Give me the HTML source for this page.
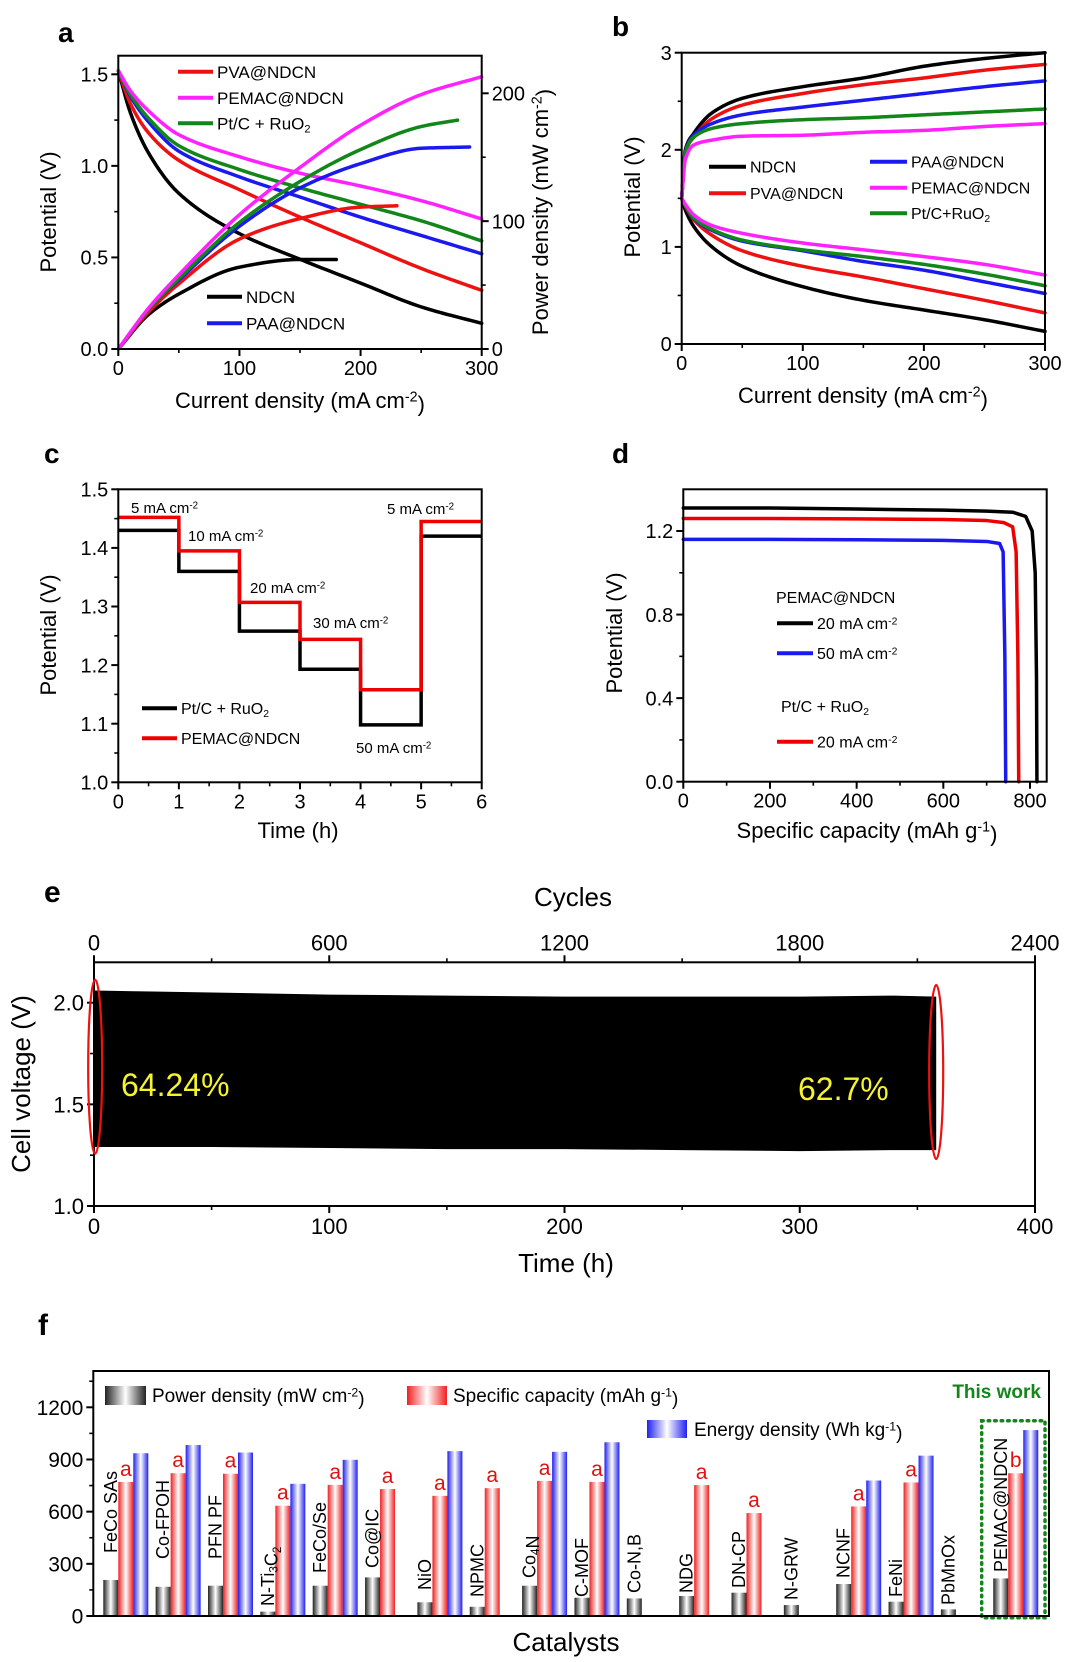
<!DOCTYPE html>
<html><head><meta charset="utf-8"><style>
html,body{margin:0;padding:0;background:#fff;}
svg{display:block;font-family:"Liberation Sans",Arial,sans-serif;}
</style></head><body>
<svg id="fig" xmlns="http://www.w3.org/2000/svg" width="1080" height="1662" viewBox="0 0 1080 1662">
<defs>
<linearGradient id="gBlack" x1="0" x2="1" y1="0" y2="0"><stop offset="0" stop-color="#222"/><stop offset="0.5" stop-color="#fff"/><stop offset="1" stop-color="#222"/></linearGradient>
<linearGradient id="gRed" x1="0" x2="1" y1="0" y2="0"><stop offset="0" stop-color="#f02020"/><stop offset="0.5" stop-color="#fff"/><stop offset="1" stop-color="#f02020"/></linearGradient>
<linearGradient id="gBlue" x1="0" x2="1" y1="0" y2="0"><stop offset="0" stop-color="#2020f0"/><stop offset="0.5" stop-color="#fff"/><stop offset="1" stop-color="#2020f0"/></linearGradient>
</defs>
</svg>
<script>
// ---------- Panel a data ----------
const aPolX = [0,10,25,50,100,150,200,250,300];
const aPolNDCN = [1.52,1.29,1.07,0.85,0.63,0.49,0.36,0.23,0.14];
const aPolPVA = [1.52,1.34,1.18,1.03,0.87,0.72,0.58,0.44,0.32];
const aPolPAA = [1.52,1.38,1.24,1.08,0.94,0.83,0.72,0.62,0.52];
const aPolPtC = [1.52,1.39,1.26,1.11,0.98,0.88,0.79,0.70,0.59];
const aPolPEMAC = [1.52,1.41,1.30,1.17,1.05,0.96,0.89,0.81,0.71];
const aPowNDCNx = [0,25,50,100,150,180];
const aPowNDCN = [0,27,43,64,70,70];
const aPowPVAx = [0,25,50,100,150,200,230];
const aPowPVA = [0,29,51,86,102,111,112];
const aPowPAAx = [0,25,50,100,150,200,250,290];
const aPowPAA = [0,31,54,96,126,145,157,158];
const aPowPtCx = [0,25,50,100,150,200,250,280];
const aPowPtC = [0,31,55,99,131,156,174,179];
const aPowPEMACx = [0,25,50,100,150,200,250,300];
const aPowPEMAC = [0,32,58,105,142,175,199,213];
// ---------- Panel b data ----------
const bX = [0,3,10,25,50,100,150,200,250,300];
const bChNDCN = [1.5,2.0,2.17,2.38,2.53,2.65,2.74,2.86,2.94,3.0];
const bChPVA = [1.5,1.97,2.13,2.32,2.46,2.58,2.67,2.74,2.82,2.88];
const bChPAA = [1.5,1.98,2.15,2.27,2.36,2.44,2.51,2.58,2.65,2.71];
const bChPtC = [1.5,1.97,2.13,2.22,2.27,2.31,2.33,2.36,2.39,2.42];
const bChPEMAC = [1.5,1.9,2.05,2.10,2.14,2.15,2.18,2.2,2.24,2.27];
const bDisNDCN = [1.5,1.38,1.21,1.0,0.8,0.59,0.45,0.35,0.25,0.13];
const bDisPVA = [1.5,1.42,1.28,1.12,0.96,0.8,0.69,0.57,0.45,0.32];
const bDisPAA = [1.5,1.43,1.29,1.17,1.06,0.96,0.85,0.76,0.64,0.52];
const bDisPtC = [1.5,1.43,1.30,1.18,1.07,0.97,0.90,0.82,0.72,0.60];
const bDisPEMAC = [1.5,1.44,1.33,1.22,1.14,1.04,0.97,0.90,0.82,0.71];
// ---------- Panel c data ----------
const cTimes = [0,1,2,3,4,5,6];
const cPtC = [1.43,1.36,1.258,1.193,1.098,1.42];
const cPEMAC = [1.452,1.395,1.307,1.244,1.158,1.445];
// ---------- Panel d data ----------
const dCap20 = [0,200,400,600,700,760,790,805,812,815,816];
const dV20 = [1.31,1.31,1.305,1.30,1.295,1.29,1.27,1.2,1.0,0.5,0];
const dCap50 = [0,200,400,600,700,730,738,742,744];
const dV50 = [1.16,1.16,1.158,1.155,1.15,1.14,1.1,0.6,0];
const dCapPt = [0,200,400,600,700,740,760,768,772,774];
const dVPt = [1.26,1.26,1.258,1.255,1.25,1.24,1.22,1.1,0.6,0];
// ---------- Panel e data ----------
const eTime = [0,25,50,100,150,200,250,300,340,358];
const eUpper = [2.06,2.055,2.05,2.04,2.035,2.03,2.03,2.03,2.035,2.03];
const eLower = [1.29,1.29,1.29,1.285,1.28,1.28,1.275,1.27,1.275,1.275];
// ---------- Panel f data ----------
const fCats = ["FeCo SAs","Co-FPOH","PFN PF","N-Ti₃C₂","FeCo/Se","Co@IC","NiO","NPMC","Co₄N","C-MOF","Co-N,B","NDG","DN-CP","N-GRW","NCNF","FeNi","PbMnOx","PEMAC@NDCN"];
const fPower = [207,168,174,25,174,222,79,53,174,105,101,115,134,63,184,82,38,216];
const fCapacity = [771,821,818,634,754,730,691,735,777,771,0,753,592,0,630,768,0,821];
const fEnergy = [936,983,940,760,898,0,948,0,944,999,0,0,0,0,779,922,0,1069];
const fNotes = ["a","a","a","a","a","a","a","a","a","a","","a","a","","a","a","","b"];
const fLabelBottom = [1553,1559,1559,1606,1573,1568,1590,1597,1578,1597,1593,1593,1588,1600,1578,1597,1605,1572];

const NS='http://www.w3.org/2000/svg';
const svg=document.getElementById('fig');
function el(tag, attrs, name, parent){
  const e=document.createElementNS(NS,tag);
  for(const k in attrs) e.setAttribute(k,attrs[k]);
  
  
  (parent||svg).appendChild(e);
  return e;
}
function txt(x,y,html,size,name,opts){
  opts=opts||{};
  const a={x:x,y:y,'font-size':size,fill:opts.fill||'#000','text-anchor':opts.anchor||'start'};
  if(opts.weight) a['font-weight']=opts.weight;
  if(opts.rot!==undefined) a.transform='rotate('+opts.rot+' '+x+' '+y+')';
  const t=el('text',a,name);
  t.innerHTML=html;
  return t;
}
const SUPEND=(s)=>'<tspan dy="-0.45em" font-size="0.65em">'+s+'</tspan>';
const sub=(s)=>'<tspan dy="0.3em" font-size="0.65em">'+s+'</tspan><tspan dy="-0.3em"></tspan>';
function S(d0,d1,r0,r1){return v=>r0+(v-d0)/(d1-d0)*(r1-r0);}
function monotone(xs,ys,n){
  const k=xs.length, d=[], m=new Array(k);
  for(let i=0;i<k-1;i++) d.push((ys[i+1]-ys[i])/(xs[i+1]-xs[i]));
  m[0]=d[0]; m[k-1]=d[k-2];
  for(let i=1;i<k-1;i++){
    if(d[i-1]*d[i]<=0) m[i]=0;
    else { const h0=xs[i]-xs[i-1],h1=xs[i+1]-xs[i]; const w1=2*h1+h0,w2=h1+2*h0; m[i]=(w1+w2)/(w1/d[i-1]+w2/d[i]); }
  }
  const out=[];
  for(let i=0;i<k-1;i++){
    const h=xs[i+1]-xs[i];
    for(let j=0;j<n;j++){
      const t=j/n, t2=t*t, t3=t2*t;
      const y=(2*t3-3*t2+1)*ys[i]+(t3-2*t2+t)*h*m[i]+(-2*t3+3*t2)*ys[i+1]+(t3-t2)*h*m[i+1];
      out.push([xs[i]+t*h,y]);
    }
  }
  out.push([xs[k-1],ys[k-1]]);
  return out;
}
function curve(xs,vs,sx,sy,color,w,name,smooth){
  let pts;
  if(smooth===false) pts=xs.map((x,i)=>[x,vs[i]]);
  else pts=monotone(xs,vs,16);
  const d='M'+pts.map(p=>sx(p[0]).toFixed(2)+','+sy(p[1]).toFixed(2)).join(' L');
  return el('path',{d:d,fill:'none',stroke:color,'stroke-width':w,'stroke-linejoin':'round','stroke-linecap':'round'},name);
}
function frame(x0,y0,x1,y1,name){
  el('rect',{x:x0,y:y0,width:x1-x0,height:y1-y0,fill:'none',stroke:'#000','stroke-width':2},name);
}
function axisTicks(side,scale,ticks,labels,minor,pos,size,prefix){
  const L=7,m=4;
  ticks.forEach((t,i)=>{
    const p=scale(t);
    let a;
    if(side==='left') a={x1:pos,x2:pos-L,y1:p,y2:p};
    if(side==='right') a={x1:pos,x2:pos+L,y1:p,y2:p};
    if(side==='bottom') a={x1:p,x2:p,y1:pos,y2:pos+L};
    if(side==='top') a={x1:p,x2:p,y1:pos,y2:pos-L};
    a.stroke='#000';a['stroke-width']=2;
    el('line',a,prefix+'-tick');
    if(labels){
      const lab=labels[i];
      if(side==='left') txt(pos-10,p+size*0.36,lab,size,prefix+'-tick-label',{anchor:'end'});
      if(side==='right') txt(pos+10,p+size*0.36,lab,size,prefix+'-tick-label');
      if(side==='bottom') txt(p,pos+size+6,lab,size,prefix+'-tick-label',{anchor:'middle'});
      if(side==='top') txt(p,pos-12,lab,size,prefix+'-tick-label',{anchor:'middle'});
    }
  });
  (minor||[]).forEach(t=>{
    const p=scale(t);let a;
    if(side==='left') a={x1:pos,x2:pos-m,y1:p,y2:p};
    if(side==='right') a={x1:pos,x2:pos+m,y1:p,y2:p};
    if(side==='bottom') a={x1:p,x2:p,y1:pos,y2:pos+m};
    if(side==='top') a={x1:p,x2:p,y1:pos,y2:pos-m};
    a.stroke='#000';a['stroke-width']=1.6;
    el('line',a,prefix+'-minor-tick');
  });
}
function legendLine(x1,x2,y,color,w,label,size,name){
  el('line',{x1:x1,x2:x2,y1:y,y2:y,stroke:color,'stroke-width':w},name+'-swatch');
  txt(x2+4,y+size*0.36,label,size,name+'-label');
}
const C={blk:'#000',red:'#ee1111',blue:'#1a1aee',mag:'#ff22ff',grn:'#13861a'};

// ================= Panel a =================
(function(){
  const xa=S(0,300,118.3,481.7), ya=S(0,1.5,349,74.3), pa=S(0,200,349,93.3);
  txt(58,42,'a',28,'panel-label-a',{weight:'bold'});
  const pairs=[[aPolNDCN,C.blk,'ndcn'],[aPolPVA,C.red,'pva'],[aPolPAA,C.blue,'paa'],[aPolPtC,C.grn,'ptc'],[aPolPEMAC,C.mag,'pemac']];
  pairs.forEach(p=>curve(aPolX,p[0],xa,ya,p[1],3.5,'polarization-'+p[2]));
  curve(aPowNDCNx,aPowNDCN,xa,pa,C.blk,3.5,'power-ndcn');
  curve(aPowPVAx,aPowPVA,xa,pa,C.red,3.5,'power-pva');
  curve(aPowPAAx,aPowPAA,xa,pa,C.blue,3.5,'power-paa');
  curve(aPowPtCx,aPowPtC,xa,pa,C.grn,3.5,'power-ptc');
  curve(aPowPEMACx,aPowPEMAC,xa,pa,C.mag,3.5,'power-pemac');
  frame(118.3,55.7,481.7,349,'plot-frame-a');
  axisTicks('left',ya,[0,0.5,1,1.5],['0.0','0.5','1.0','1.5'],[0.25,0.75,1.25],118.3,20,'a-y');
  axisTicks('right',pa,[0,100,200],['0','100','200'],[50,150],481.7,20,'a-y2');
  axisTicks('bottom',xa,[0,100,200,300],['0','100','200','300'],[50,150,250],349,20,'a-x');
  txt(56,212,'Potential (V)',22,'a-y-axis-title',{anchor:'middle',rot:-90});
  txt(300,408,'Current density (mA cm'+SUPEND('-2')+'<tspan dy="0.45em">)</tspan>',22,'a-x-axis-title',{anchor:'middle'});
  txt(548,212,'Power density (mW cm'+SUPEND('-2')+'<tspan dy="0.45em">)</tspan>',22,'a-y2-axis-title',{anchor:'middle',rot:-90});
  legendLine(178,213,71.7,C.red,4,'PVA@NDCN',17,'a-legend-pva');
  legendLine(178,213,97.7,C.mag,4,'PEMAC@NDCN',17,'a-legend-pemac');
  legendLine(178,213,123.3,C.grn,4,'Pt/C + RuO'+sub('2'),17,'a-legend-ptc');
  legendLine(207,242,296.7,C.blk,4,'NDCN',17,'a-legend-ndcn');
  legendLine(207,242,323.3,C.blue,4,'PAA@NDCN',17,'a-legend-paa');
})();

// ================= Panel b =================
(function(){
  const xb=S(0,300,681.7,1045), yb=S(0,3,344,52.7);
  txt(612,36,'b',28,'panel-label-b',{weight:'bold'});
  const ch=[[bChNDCN,C.blk,'ndcn'],[bChPVA,C.red,'pva'],[bChPAA,C.blue,'paa'],[bChPtC,C.grn,'ptc'],[bChPEMAC,C.mag,'pemac']];
  const dis=[[bDisNDCN,C.blk,'ndcn'],[bDisPVA,C.red,'pva'],[bDisPAA,C.blue,'paa'],[bDisPtC,C.grn,'ptc'],[bDisPEMAC,C.mag,'pemac']];
  ch.forEach(p=>curve(bX,p[0],xb,yb,p[1],3.5,'charge-'+p[2]));
  dis.forEach(p=>curve(bX,p[0],xb,yb,p[1],3.5,'discharge-'+p[2]));
  frame(681.7,52.7,1045,344,'plot-frame-b');
  axisTicks('left',yb,[0,1,2,3],['0','1','2','3'],[0.5,1.5,2.5],681.7,20,'b-y');
  axisTicks('bottom',xb,[0,100,200,300],['0','100','200','300'],[50,150,250],344,20,'b-x');
  txt(640,197,'Potential (V)',22,'b-y-axis-title',{anchor:'middle',rot:-90});
  txt(863,403,'Current density (mA cm'+SUPEND('-2')+'<tspan dy="0.45em">)</tspan>',22,'b-x-axis-title',{anchor:'middle'});
  legendLine(709,746,166.7,C.blk,4,'NDCN',16,'b-legend-ndcn');
  legendLine(709,746,193.3,C.red,4,'PVA@NDCN',16,'b-legend-pva');
  legendLine(870,907,161.7,C.blue,4,'PAA@NDCN',16,'b-legend-paa');
  legendLine(870,907,187.7,C.mag,4,'PEMAC@NDCN',16,'b-legend-pemac');
  legendLine(870,907,213.3,C.grn,4,'Pt/C+RuO'+sub('2'),16,'b-legend-ptc');
})();

// ================= Panel c =================
(function(){
  const xc=S(0,6,118.3,481.7), yc=S(1,1.5,782.3,489.3);
  txt(44,463,'c',28,'panel-label-c',{weight:'bold'});
  function step(vals,color,name){
    let d='M'+xc(cTimes[0])+','+yc(vals[0]);
    vals.forEach((v,i)=>{ if(i>0) d+=' V'+yc(v); d+=' H'+xc(cTimes[i+1]); });
    el('path',{d:d,fill:'none',stroke:color,'stroke-width':3.5},name);
  }
  step(cPtC,C.blk,'step-curve-ptc');
  step(cPEMAC,'#ee0000','step-curve-pemac');
  frame(118.3,489.3,481.7,782.3,'plot-frame-c');
  axisTicks('left',yc,[1,1.1,1.2,1.3,1.4,1.5],['1.0','1.1','1.2','1.3','1.4','1.5'],[1.05,1.15,1.25,1.35,1.45],118.3,20,'c-y');
  axisTicks('bottom',xc,[0,1,2,3,4,5,6],['0','1','2','3','4','5','6'],[0.5,1.5,2.5,3.5,4.5,5.5],782.3,20,'c-x');
  txt(56,635,'Potential (V)',22,'c-y-axis-title',{anchor:'middle',rot:-90});
  txt(298,838,'Time (h)',22,'c-x-axis-title',{anchor:'middle'});
  const ma=(n)=>n+' mA cm'+SUPEND('-2');
  txt(131,513,ma('5'),15,'c-label-5');
  txt(188,541,ma('10'),15,'c-label-10');
  txt(250,593,ma('20'),15,'c-label-20');
  txt(313,628,ma('30'),15,'c-label-30');
  txt(356,753,ma('50'),15,'c-label-50');
  txt(387,514,ma('5'),15,'c-label-5-return');
  legendLine(142,177,708.3,C.blk,4,'Pt/C + RuO'+sub('2'),16,'c-legend-ptc');
  legendLine(142,177,738.3,'#ee0000',4,'PEMAC@NDCN',16,'c-legend-pemac');
})();

// ================= Panel d =================
(function(){
  const xd=S(0,800,683.3,1030), yd=S(0,1.2,781.7,531);
  txt(612,463,'d',28,'panel-label-d',{weight:'bold'});
  curve(dCap20,dV20,xd,yd,C.blk,3.5,'discharge-pemac-20',false);
  curve(dCapPt,dVPt,xd,yd,'#ee0000',3.5,'discharge-ptc-20',false);
  curve(dCap50,dV50,xd,yd,C.blue,3.5,'discharge-pemac-50',false);
  frame(683.3,489.3,1046.7,781.7,'plot-frame-d');
  axisTicks('left',yd,[0,0.4,0.8,1.2],['0.0','0.4','0.8','1.2'],[0.2,0.6,1.0],683.3,20,'d-y');
  axisTicks('bottom',xd,[0,200,400,600,800],['0','200','400','600','800'],[100,300,500,700],781.7,20,'d-x');
  txt(622,633,'Potential (V)',22,'d-y-axis-title',{anchor:'middle',rot:-90});
  txt(867,838,'Specific capacity (mAh g'+SUPEND('-1')+'<tspan dy="0.45em">)</tspan>',22,'d-x-axis-title',{anchor:'middle'});
  const ma=(n)=>n+' mA cm'+SUPEND('-2');
  txt(776,603,'PEMAC@NDCN',16,'d-legend-header-pemac');
  legendLine(777,813,623.3,C.blk,4,ma('20'),16,'d-legend-pemac-20');
  legendLine(777,813,653.3,C.blue,4,ma('50'),16,'d-legend-pemac-50');
  txt(781,712,'Pt/C + RuO'+sub('2'),16,'d-legend-header-ptc');
  legendLine(777,813,741.7,'#ee0000',4,ma('20'),16,'d-legend-ptc-20');
})();

// ================= Panel e =================
(function(){
  const xe=S(0,400,94,1035), ye=S(1,2,1206,1002.7), xcyc=S(0,2400,94,1035);
  txt(44,902,'e',30,'panel-label-e',{weight:'bold'});
  const up=eTime.map((t,i)=>xe(t).toFixed(2)+','+ye(eUpper[i]).toFixed(2));
  const lo=eTime.map((t,i)=>xe(t).toFixed(2)+','+ye(eLower[i]).toFixed(2)).reverse();
  el('polygon',{points:up.concat(lo).join(' '),fill:'#000'},'cycling-voltage-band');
  frame(94,962.3,1035,1206,'plot-frame-e');
  axisTicks('left',ye,[1,1.5,2],['1.0','1.5','2.0'],[1.25,1.75],94,22,'e-y');
  axisTicks('bottom',xe,[0,100,200,300,400],['0','100','200','300','400'],[50,150,250,350],1206,22,'e-x');
  axisTicks('top',xcyc,[0,600,1200,1800,2400],['0','600','1200','1800','2400'],[300,900,1500,2100],962.3,22,'e-x2');
  txt(573,906,'Cycles',26,'e-top-axis-title',{anchor:'middle'});
  txt(566,1272,'Time (h)',26,'e-x-axis-title',{anchor:'middle'});
  txt(30,1084,'Cell voltage (V)',26,'e-y-axis-title',{anchor:'middle',rot:-90});
  el('ellipse',{cx:xe(0.5),cy:1066.7,rx:7,ry:87,fill:'none',stroke:'#ee1111','stroke-width':2.2},'start-highlight-ellipse');
  el('ellipse',{cx:xe(358),cy:1072,rx:7,ry:87,fill:'none',stroke:'#ee1111','stroke-width':2.2},'end-highlight-ellipse');
  txt(121,1096,'64.24%',32,'start-efficiency-label',{fill:'#f5f230'});
  txt(798,1100,'62.7%',32,'end-efficiency-label',{fill:'#f5f230'});
})();

// ================= Panel f =================
(function(){
  const yf=S(0,1200,1616,1407.3);
  const bw=15, gap=52.35, x0=103.3;
  txt(38,1335,'f',30,'panel-label-f',{weight:'bold'});
  fCats.forEach((c,i)=>{
    const bx=x0+gap*i;
    if(fPower[i]>0){el('rect',{x:bx,y:yf(fPower[i]),width:bw,height:yf(0)-yf(fPower[i]),fill:'url(#gBlack)'},'bar-power');}
    if(fCapacity[i]>0){
      el('rect',{x:bx+bw,y:yf(fCapacity[i]),width:bw,height:yf(0)-yf(fCapacity[i]),fill:'url(#gRed)'},'bar-capacity');
      if(fNotes[i]) txt(bx+bw*1.5,yf(fCapacity[i])-6,fNotes[i],21,'bar-note',{anchor:'middle',fill:'#e01010'});
    }
    if(fEnergy[i]>0){el('rect',{x:bx+2*bw,y:yf(fEnergy[i]),width:bw,height:yf(0)-yf(fEnergy[i]),fill:'url(#gBlue)'},'bar-energy');}
    let lab=c.replace('₃',sub('3')).replace('₂',sub('2')).replace('₄',sub('4'));
    txt(bx+13.5,fLabelBottom[i],lab,18,'category-label',{rot:-90});
  });
  el('rect',{x:981.7,y:1420.7,width:63.3,height:197,fill:'none',stroke:'#13861a','stroke-width':3.5,'stroke-dasharray':'1.5 5','stroke-linecap':'round'},'this-work-highlight-box');
  frame(93.3,1371,1049,1616,'plot-frame-f');
  axisTicks('left',yf,[0,300,600,900,1200],['0','300','600','900','1200'],[150,450,750,1050,1350],93.3,21,'f-y');
  txt(566,1651,'Catalysts',26,'f-x-axis-title',{anchor:'middle'});
  el('rect',{x:105,y:1386,width:41,height:19,fill:'url(#gBlack)'},'legend-power-swatch');
  txt(152,1402,'Power density (mW cm'+SUPEND('-2')+'<tspan dy="0.45em">)</tspan>',19,'legend-power-label');
  el('rect',{x:407,y:1386,width:40,height:19,fill:'url(#gRed)'},'legend-capacity-swatch');
  txt(453,1402,'Specific capacity (mAh g'+SUPEND('-1')+'<tspan dy="0.45em">)</tspan>',19,'legend-capacity-label');
  el('rect',{x:647,y:1420,width:40,height:18,fill:'url(#gBlue)'},'legend-energy-swatch');
  txt(694,1436,'Energy density (Wh kg'+SUPEND('-1')+'<tspan dy="0.45em">)</tspan>',19,'legend-energy-label');
  txt(1041,1398,'This work',19,'this-work-label',{anchor:'end',fill:'#13861a',weight:'bold'});
})();
</script>
</body></html>
